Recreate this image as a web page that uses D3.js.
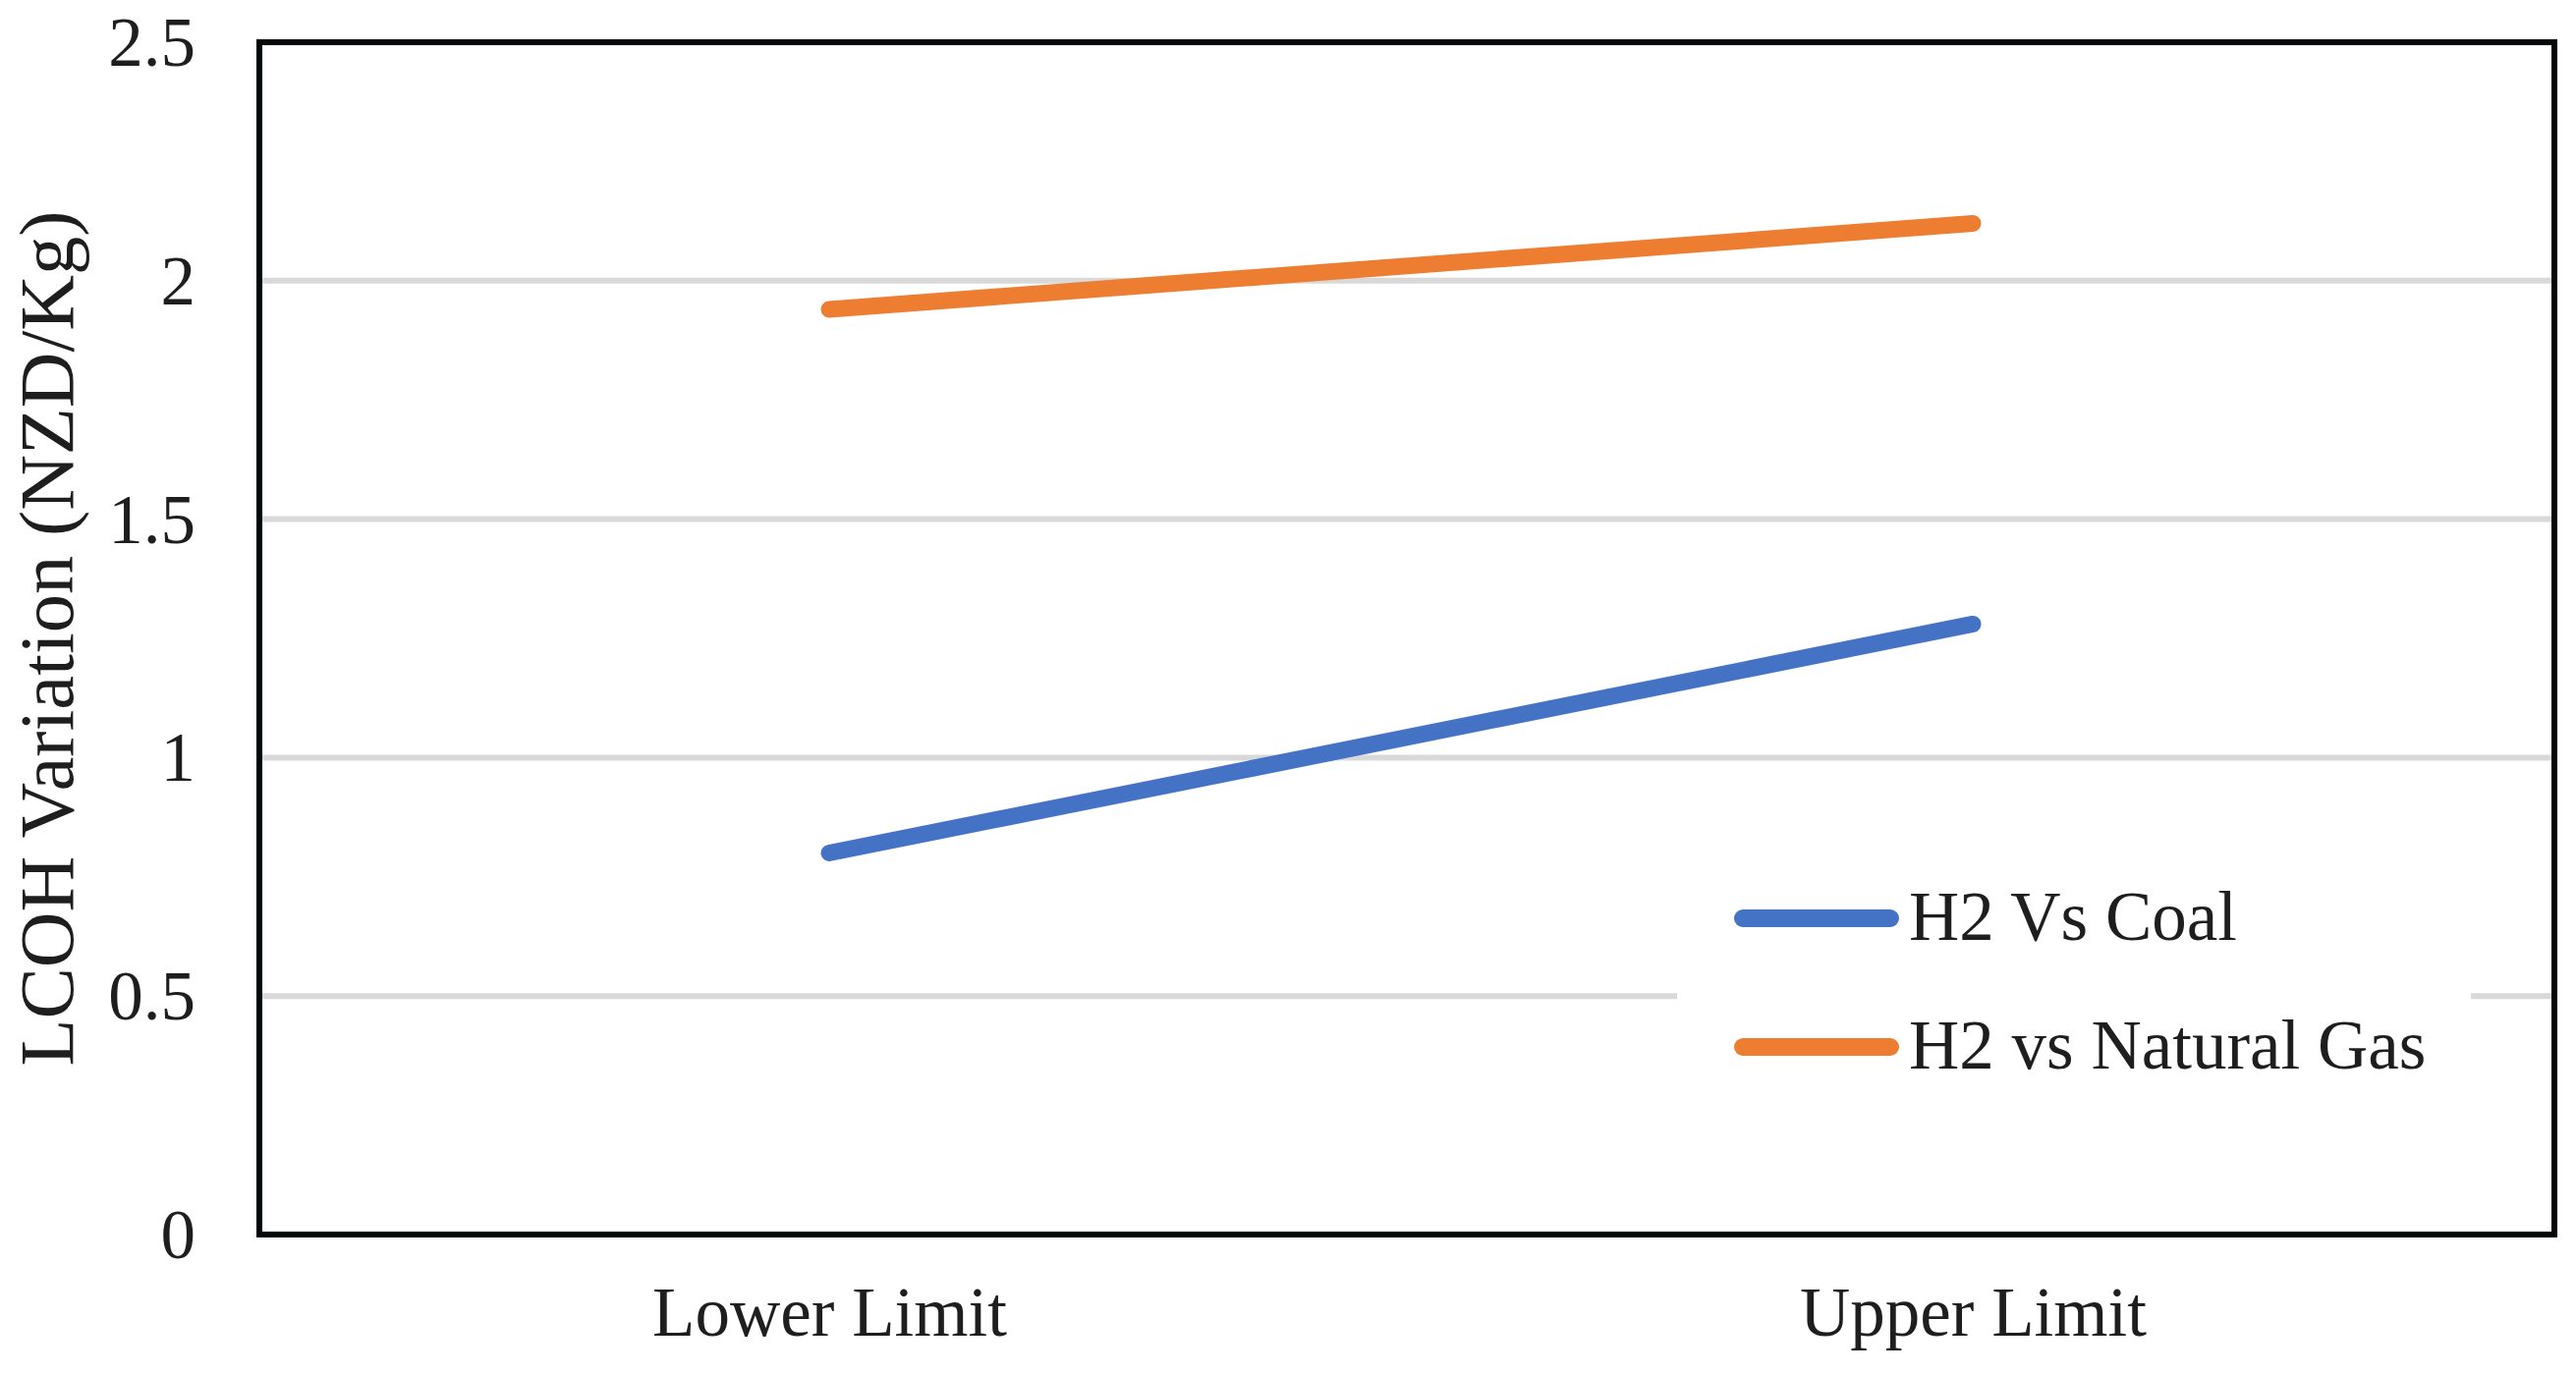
<!DOCTYPE html>
<html>
<head>
<meta charset="utf-8">
<script src="https://cdn.jsdelivr.net/npm/d3@7"></script>
<style>
  html, body { margin: 0; padding: 0; background: #fff; }
  svg text { font-family: "Liberation Serif", "Times New Roman", serif; fill: #1e1e1e; }
</style>
</head>
<body>
<svg id="chart"></svg>
<script>
// Chart data
const categories = ["Lower Limit", "Upper Limit"];
const seriesNames = ["H2 Vs Coal", "H2 vs Natural Gas"];
const coalValues = [0.80, 1.28];
const gasValues = [1.94, 2.12];
const yTicks = [0, 0.5, 1, 1.5, 2, 2.5];
const yLabel = "LCOH Variation (NZD/Kg)";

// Dimensions and styling
const WIDTH = 2622;
const HEIGHT = 1399;
const PLOT = { left: 264, right: 2600, top: 43, bottom: 1257 };
const FONT_SIZE = 71;
const COLORS = ["#4472C4", "#ED7D31"];
const GRID_COLOR = "#d9d9d9";

function drawChart() {
    const svg = d3.select("#chart")
        .attr("width", WIDTH)
        .attr("height", HEIGHT)
        .attr("viewBox", [0, 0, WIDTH, HEIGHT]);

    svg.append("rect")
        .attr("width", WIDTH)
        .attr("height", HEIGHT)
        .attr("fill", "#fff");

    const x = d3.scalePoint()
        .domain(categories)
        .range([262, 2590])
        .padding(0.5);

    const y = d3.scaleLinear()
        .domain([0, 2.5])
        .range([PLOT.bottom, PLOT.top]);

    // Horizontal gridlines
    svg.append("g")
        .selectAll("line")
        .data(yTicks.filter(d => d > 0 && d < 2.5))
        .join("line")
        .attr("x1", PLOT.left)
        .attr("x2", PLOT.right)
        .attr("y1", d => y(d))
        .attr("y2", d => y(d))
        .attr("stroke", GRID_COLOR)
        .attr("stroke-width", 6);

    // Y tick labels
    const yAxis = svg.append("g")
        .attr("transform", `translate(${PLOT.left - 65},0)`)
        .call(d3.axisLeft(y).tickValues(yTicks).tickSize(0).tickPadding(0).tickFormat(d3.format("")));
    yAxis.select(".domain").remove();
    yAxis.selectAll("text")
        .attr("font-size", FONT_SIZE)
        .attr("dy", "0.33em");

    // X category labels
    const xAxis = svg.append("g")
        .attr("transform", `translate(0,${PLOT.bottom})`)
        .call(d3.axisBottom(x).tickSize(0).tickPadding(0));
    xAxis.select(".domain").remove();
    xAxis.selectAll("text")
        .attr("font-size", FONT_SIZE)
        .attr("y", 103)
        .attr("dy", 0);

    // Y axis title
    svg.append("text")
        .attr("transform", `translate(74,650) rotate(-90)`)
        .attr("text-anchor", "middle")
        .attr("font-size", 78)
        .attr("textLength", 871)
        .attr("lengthAdjust", "spacingAndGlyphs")
        .text(yLabel);

    // Series lines
    const line = d3.line()
        .x((d, i) => x(categories[i]))
        .y(d => y(d));

    [coalValues, gasValues].forEach((values, i) => {
        svg.append("path")
            .datum(values)
            .attr("d", line)
            .attr("fill", "none")
            .attr("stroke", COLORS[i])
            .attr("stroke-width", 17)
            .attr("stroke-linecap", "round");
    });

    // Legend with white background covering gridline
    const legend = svg.append("g");
    legend.append("rect")
        .attr("x", 1707)
        .attr("y", 880)
        .attr("width", 808)
        .attr("height", 250)
        .attr("fill", "#fff");

    const rows = legend.selectAll("g.item")
        .data(seriesNames)
        .join("g")
        .attr("class", "item")
        .attr("transform", (d, i) => `translate(0,${935 + i * 131})`);

    rows.append("line")
        .attr("x1", 1774)
        .attr("x2", 1924)
        .attr("stroke", (d, i) => COLORS[i])
        .attr("stroke-width", 18)
        .attr("stroke-linecap", "round");

    rows.append("text")
        .attr("x", 1943)
        .attr("y", 22)
        .attr("font-size", FONT_SIZE)
        .text(d => d);

    // Plot frame
    svg.append("rect")
        .attr("x", PLOT.left)
        .attr("y", PLOT.top)
        .attr("width", PLOT.right - PLOT.left)
        .attr("height", PLOT.bottom - PLOT.top)
        .attr("fill", "none")
        .attr("stroke", "#050808")
        .attr("stroke-width", 6);
}

drawChart();
</script>
</body>
</html>
